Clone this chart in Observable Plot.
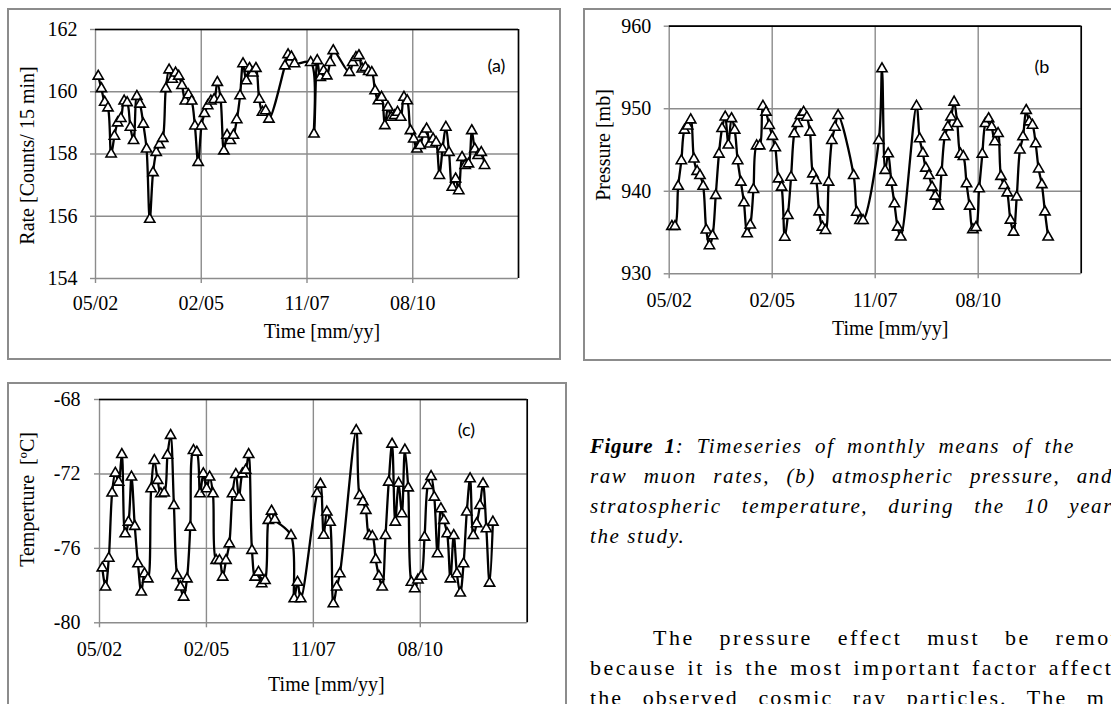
<!DOCTYPE html>
<html><head><meta charset="utf-8">
<script src="https://cdn.jsdelivr.net/npm/d3@7"></script>
<script src="https://cdn.jsdelivr.net/npm/@observablehq/plot@0.6"></script>
<style>
html,body{margin:0;padding:0;background:#fff;}
#page{position:relative;width:1111px;height:704px;overflow:hidden;background:#fff;}
.box{position:absolute;border:2px solid #8c8c8c;box-sizing:border-box;}
.chart{position:absolute;}
.chart svg{display:block;overflow:visible;max-width:none !important;}
.cap{position:absolute;font-family:"Liberation Serif","Times New Roman",serif;font-size:21px;line-height:21px;font-style:italic;letter-spacing:1.6px;color:#000;white-space:normal;}
.just{text-align:justify;text-align-last:justify;}
.para{position:absolute;font-family:"Liberation Serif","Times New Roman",serif;font-size:22px;line-height:22px;letter-spacing:2.1px;color:#000;}
</style>
</head><body>
<div id="page">
  <div class="box" style="left:7px;top:8px;width:554px;height:352px"></div>
  <div class="box" style="left:583px;top:8px;width:560px;height:353px"></div>
  <div class="box" style="left:7px;top:382px;width:560px;height:340px"></div>
  <div class="chart" id="ca" style="left:7px;top:8px;width:554px"></div>
  <div class="chart" id="cb" style="left:583px;top:8px;width:540px"></div>
  <div class="chart" id="cc" style="left:7px;top:382px;width:560px"></div>

  <div class="cap just" style="left:590px;top:435.7px;width:485px"><b style="letter-spacing:0.6px">Figure 1</b>: Timeseries of monthly means of the</div>
  <div class="cap just" style="left:590px;top:465.7px;width:523px">raw muon rates, (b) atmospheric pressure, and</div>
  <div class="cap just" style="left:590px;top:495.7px;width:523px">stratospheric temperature, during the 10 year</div>
  <div class="cap" style="left:590px;top:525.7px;width:300px">the study.</div>

  <div class="para just" style="left:653px;top:626.6px;width:497px;letter-spacing:2.5px">The pressure effect must be removed</div>
  <div class="para just" style="left:590px;top:656.6px;width:559px;letter-spacing:2.5px">because it is the most important factor affecting</div>
  <div class="para just" style="left:590px;top:686.6px;width:516px">the observed cosmic ray particles. The m</div>
</div>
<script>
// ---- data (monthly means) ----
const months = [
 "2002-06","2002-07","2002-08","2002-09","2002-10","2002-11","2002-12",
 "2003-01","2003-02","2003-03","2003-04","2003-05","2003-06","2003-07","2003-08","2003-09","2003-10","2003-11","2003-12",
 "2004-01","2004-02","2004-03","2004-04","2004-05","2004-06","2004-07","2004-08","2004-09","2004-10","2004-11","2004-12",
 "2005-01","2005-02","2005-03","2005-04","2005-05","2005-06","2005-07","2005-08","2005-09","2005-10","2005-11","2005-12",
 "2006-01","2006-02","2006-03","2006-04","2006-05","2006-06","2006-07","2006-08","2006-09","2006-10","2006-11",
 "2007-04","2007-05","2007-06","2007-07",
 "2007-12","2008-01","2008-02","2008-03","2008-04","2008-05","2008-06","2008-07",
 "2008-12",
 "2009-01","2009-02","2009-03","2009-04","2009-05","2009-06","2009-07","2009-08","2009-09","2009-10","2009-11","2009-12",
 "2010-01","2010-02","2010-03","2010-04","2010-05","2010-06","2010-07","2010-08","2010-09","2010-10","2010-11","2010-12",
 "2011-01","2011-02","2011-03","2011-04","2011-05","2011-06","2011-07","2011-08","2011-09","2011-10","2011-11","2011-12",
 "2012-01","2012-02","2012-03","2012-04","2012-05","2012-06"
];
const rate = [
 160.5,160.1,159.66,159.48,158.0,158.57,159.0,159.14,159.7,159.65,
 158.86,158.43,159.85,159.6,158.96,158.16,155.9,157.4,158.05,158.3,
 158.5,160.1,160.7,160.4,160.6,160.5,160.2,159.7,159.9,159.7,
 158.9,157.73,158.9,159.3,159.55,159.7,159.75,160.3,159.76,158.1,
 158.6,158.43,158.6,159.1,159.87,160.9,160.35,160.75,160.6,160.75,
 159.76,159.34,159.39,159.12,
 160.83,161.19,161.12,160.9,
 160.94,158.64,161.0,160.46,160.67,160.51,160.94,161.32,
 160.62,160.94,161.1,161.16,160.73,160.78,160.65,
 160.62,160.03,159.71,159.82,158.91,159.5,159.18,159.23,159.34,159.18,
 159.82,159.71,158.75,158.48,158.16,158.27,158.64,158.8,158.32,158.48,
 158.37,157.31,158.16,158.86,158.05,156.93,157.2,156.82,157.89,157.63,
 157.68,158.75,158.16,157.95,158.05,157.63
];
const pressure = [
 935.74,935.74,940.6,943.7,947.4,947.9,948.65,943.9,942.4,941.9,
 940.6,935.3,933.4,934.6,939.5,944.5,947.6,949.0,945.6,948.8,
 947.4,943.7,941.1,938.6,934.85,935.9,940.2,945.5,945.5,950.3,
 949.58,947.97,946.64,945.27,941.5,940.5,934.43,937.06,941.7,946.96,
 948.2,949.18,949.58,948.97,947.16,942.1,941.3,937.5,935.65,935.25,
 941.1,946.15,947.76,949.18,
 941.9,937.46,936.46,936.46,
 946.15,954.84,942.52,944.54,941.1,938.48,935.65,934.45,
 950.3,946.35,944.6,942.8,941.9,940.5,939.4,938.2,942.3,946.6,
 947.8,949.0,950.8,948.2,944.5,944.2,940.9,938.2,935.35,935.6,
 940.3,944.5,948.2,948.8,947.8,946.0,947.0,941.8,940.7,939.8,
 936.5,935.05,939.3,945.0,946.6,949.8,948.4,948.0,945.75,942.7,
 940.8,937.5,934.45
];
const temperature = [
 -77.05,-78.08,-76.53,-73.03,-71.96,-72.44,-70.96,-75.22,-74.59,-72.17,
 -74.82,-76.83,-78.35,-77.37,-77.64,-72.8,-71.28,-72.35,-73.07,-73.03,
 -71.0,-69.93,-73.7,-77.46,-78.08,-78.62,-77.64,-74.86,-70.74,-70.83,
 -73.07,-71.99,-72.8,-72.17,-73.07,-76.65,-76.65,-77.55,-76.65,-75.76,
 -73.07,-72.03,-73.25,-72.0,-71.8,-70.96,-76.11,-77.55,-77.28,-77.9,
 -77.73,-74.5,-74.0,-74.45,
 -75.31,-78.71,-77.82,-78.71,
 -73.05,-72.55,-75.3,-74.05,-74.6,-78.98,-78.08,-77.37,
 -69.67,-73.16,-73.5,-73.96,-75.31,-75.36,-76.6,-77.5,-78.08,-75.31,
 -72.44,-70.4,-74.59,-72.5,-74.14,-70.72,-72.75,-77.82,-78.17,-77.7,
 -77.5,-75.4,-72.62,-72.14,-73.25,-76.29,-73.87,-74.5,-75.22,-77.64,
 -75.31,-77.37,-78.4,-76.83,-74.05,-72.26,-75.31,-74.68,-73.7,-72.53,
 -74.95,-77.87,-74.59
];
const tickLabels = ["05/02","02/05","11/07","08/10"];
const rateTicks = [154,156,158,160,162];
const pressureTicks = [930,940,950,960];
const temperatureTicks = [-80,-76,-72,-68];

// ---- axis settings (Excel date axis: major unit 1000 days) ----
const DAY = 864e5;
const parseDay = d3.utcParse("%Y-%m-%d");
const t0 = parseDay("2002-05-20");
const tickDates = tickLabels.map((_, i) => new Date(+t0 + i * 1000 * DAY));
const xDomain = [t0, new Date(+t0 + 4000 * DAY)];
const dates = months.map(m => parseDay(m + "-15"));
const fmtTick = d => tickLabels[tickDates.findIndex(t => +t === +d)];

const GRID = "#8c8c8c";
const SERIF = '"Liberation Serif","Times New Roman",serif';

function makeChart(o) {
  const data = dates.map((d, i) => ({date: d, value: o.values[i]}));
  return Plot.plot({
    width: o.width, height: o.height,
    marginLeft: o.ml, marginRight: o.mr, marginTop: o.mt, marginBottom: o.mb,
    style: {fontFamily: SERIF, fontSize: "20px", background: "transparent", color: "#000", maxWidth: "none"},
    x: {type: "utc", domain: xDomain},
    y: {domain: o.yDomain},
    marks: [
      Plot.ruleX(tickDates, {stroke: GRID, strokeWidth: 1.4}),
      Plot.ruleY(o.yTicks, {stroke: GRID, strokeWidth: 1.4}),
      Plot.ruleY([o.yDomain[1]], {stroke: "#000", strokeWidth: 1.7}),
      Plot.ruleX([xDomain[1]], {stroke: "#000", strokeWidth: 1.7}),
      Plot.axisX({ticks: tickDates, tickFormat: fmtTick, tickSize: 5, tickPadding: o.xPad,
                  stroke: GRID, strokeWidth: 1.4, color: "#000", fontSize: 20, label: null}),
      Plot.axisY({ticks: o.yTicks, tickFormat: d => String(d), tickSize: 5, tickPadding: o.yPad,
                  stroke: GRID, strokeWidth: 1.4, color: "#000", fontSize: 20, label: null}),
      Plot.line(data, {x: "date", y: "value", stroke: "#000", strokeWidth: 2.3, curve: "catmull-rom"}),
      Plot.dot(data, {x: "date", y: "value", symbol: "triangle", r: 3.8, fill: "#fff", stroke: "#000", strokeWidth: 1.6}),
      Plot.text([o.yLabel], {frameAnchor: "left", textAnchor: "middle", dx: o.yLabelDx, dy: o.yLabelDy, rotate: -90, fontSize: 20}),
      Plot.text(["Time [mm/yy]"], {frameAnchor: "bottom", dx: o.xLabelDx, dy: o.xLabelDy, fontSize: 20}),
      Plot.text([o.tag], {frameAnchor: "top-right", textAnchor: "start", dx: o.tagDx, dy: o.tagDy,
                          fontSize: 18, fontFamily: "Lato, 'Open Sans', sans-serif"})
    ]
  });
}

document.getElementById("ca").appendChild(makeChart({
  values: rate, yDomain: [154, 162], yTicks: rateTicks,
  width: 554, height: 352, ml: 88, mr: 43, mt: 21, mb: 82, xPad: 12, yPad: 13,
  yLabel: "Rate [Counts/ 15 min]", yLabelDx: -68, yLabelDy: 1.5,
  xLabelDx: 15, xLabelDy: 59, tag: "(a)", tagDx: -31, tagDy: 29.5
}));
document.getElementById("cb").appendChild(makeChart({
  values: pressure, yDomain: [930, 960], yTicks: pressureTicks,
  width: 540, height: 353, ml: 85.7, mr: 42.3, mt: 17.7, mb: 87.7, xPad: 14, yPad: 13,
  yLabel: "Pressure [mb]", yLabelDx: -66, yLabelDy: -5,
  xLabelDx: 15, xLabelDy: 61, tag: "(b", tagDx: -46.7, tagDy: 34.3
}));
document.getElementById("cc").appendChild(makeChart({
  values: temperature, yDomain: [-80, -68], yTicks: temperatureTicks,
  width: 560, height: 330, ml: 92, mr: 40.3, mt: 17, mb: 89.7, xPad: 14, yPad: 14,
  yLabel: "Temperture\u00a0\u00a0[\u00baC]", yLabelDx: -72, yLabelDy: -11.7,
  xLabelDx: 13, xLabelDy: 67.7, tag: "(c)", tagDx: -69.4, tagDy: 24
}));
</script>
</body></html>
